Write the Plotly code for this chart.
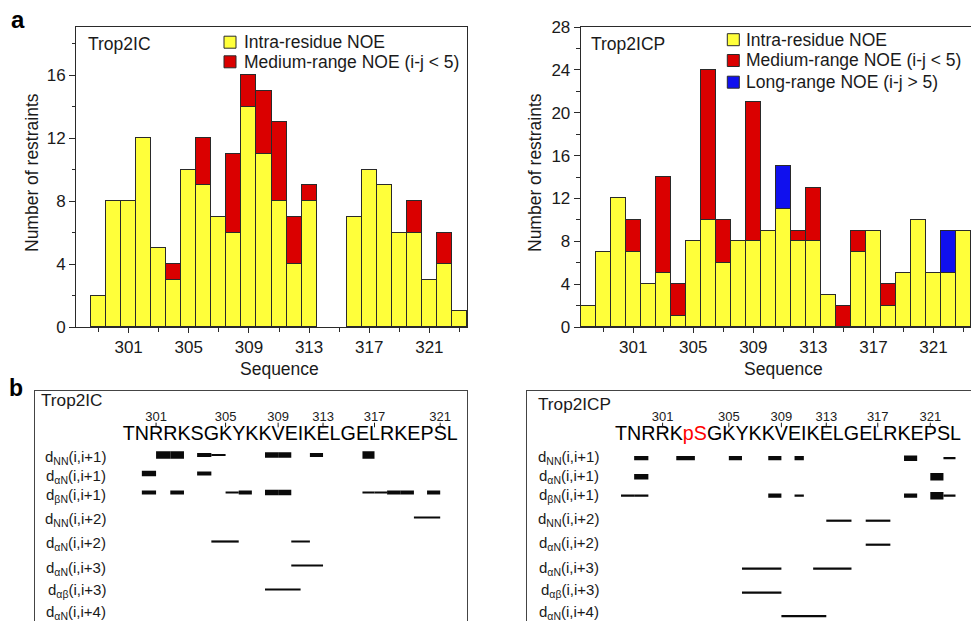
import plotly.graph_objects as go

W, H = 971, 621

# ---------------- data ----------------
residues = list(range(298, 324))

# Panel a, Trop2IC
ic_intra = [0, 2, 8, 8, 12, 5, 3, 10, 9, 7, 6, 14, 11, 8, 4, 8, 0, 0, 7, 10, 9, 6, 6, 3, 4, 1]
ic_medium = [0, 0, 0, 0, 0, 0, 1, 0, 3, 0, 5, 2, 4, 5, 3, 1, 0, 0, 0, 0, 0, 0, 2, 0, 2, 0]

# Panel a, Trop2ICP
icp_intra = [2, 7, 12, 7, 4, 5, 1, 8, 10, 6, 8, 8, 9, 11, 8, 8, 3, 0, 7, 9, 2, 5, 10, 5, 5, 9]
icp_medium = [0, 0, 0, 3, 0, 9, 3, 0, 14, 4, 0, 13, 0, 0, 1, 5, 0, 2, 2, 0, 2, 0, 0, 0, 0, 0]
icp_long = [0, 0, 0, 0, 0, 0, 0, 0, 0, 0, 0, 0, 0, 4, 0, 0, 0, 0, 0, 0, 0, 0, 0, 0, 4, 0]

series_names = ["Intra-residue NOE", "Medium-range NOE (i-j < 5)", "Long-range NOE (i-j > 5)"]
x_ticks = [301, 305, 309, 313, 317, 321]

# Panel b, sequences and NOE connectivities
ic_seq = ["T", "N", "R", "R", "K", "S", "G", "K", "Y", "K", "K", "V", "E", "I", "K",
          "E", "L", "G", "E", "L", "R", "K", "E", "P", "S", "L"]
icp_seq = ["T", "N", "R", "R", "K", "pS", "G", "K", "Y", "K", "K", "V", "E", "I", "K",
           "E", "L", "G", "E", "L", "R", "K", "E", "P", "S", "L"]
icp_seq_colors = ["red" if s == "pS" else "black" for s in icp_seq]

seq_numbers = [301, 305, 309, 313, 317, 321]
ic_number_over = [300, 305, 309, 313, 317, 322]    # residue under each number (as drawn)
icp_number_over = [301, 305, 309, 313, 317, 321]

row_labels = ["d<sub>NN</sub>(i,i+1)", "d<sub>αN</sub>(i,i+1)", "d<sub>βN</sub>(i,i+1)",
              "d<sub>NN</sub>(i,i+2)", "d<sub>αN</sub>(i,i+2)", "d<sub>αN</sub>(i,i+3)",
              "d<sub>αβ</sub>(i,i+3)", "d<sub>αN</sub>(i,i+4)"]

# (row, residue i, residue j, intensity 1=weak .. 4=strong)
ic_noe = [
    (0, 300, 301, 4), (0, 301, 302, 4), (0, 303, 304, 2), (0, 304, 305, 1),
    (0, 308, 309, 3), (0, 309, 310, 3), (0, 312, 313, 2), (0, 316, 317, 4),
    (1, 299, 300, 3), (1, 303, 304, 2),
    (2, 299, 300, 2), (2, 301, 302, 2), (2, 305, 306, 1), (2, 306, 307, 2),
    (2, 308, 309, 3), (2, 309, 310, 3), (2, 316, 317, 1), (2, 317, 318, 1),
    (2, 318, 319, 2), (2, 319, 320, 2), (2, 321, 322, 2),
    (3, 320, 322, 1),
    (4, 304, 306, 1), (4, 310, 312, 1),
    (5, 310, 313, 1),
    (6, 308, 311, 1),
]
icp_noe = [
    (0, 299, 300, 2), (0, 302, 303, 2), (0, 305, 306, 2), (0, 308, 309, 2),
    (0, 310, 311, 2), (0, 319, 320, 3), (0, 322, 323, 1),
    (1, 299, 300, 3), (1, 321, 322, 4),
    (2, 298, 299, 1), (2, 299, 300, 1), (2, 308, 309, 2), (2, 310, 311, 1),
    (2, 319, 320, 2), (2, 321, 322, 4), (2, 322, 323, 1),
    (3, 313, 315, 1), (3, 316, 318, 1),
    (4, 316, 318, 1),
    (5, 306, 309, 1), (5, 312, 315, 1),
    (6, 306, 309, 1),
    (7, 309, 313, 1),
]

# ---------------- style / layout ----------------
YEL, RED, BLUE = "#FFFF3A", "#DA0000", "#1010EE"
EDGE = "#2a2a2a"
FONT = "Arial, Liberation Sans, Helvetica, sans-serif"
TXT = "#1a1a1a"

def px(x):
    return x / W

def py(y):
    return 1 - y / H

A_TOP, A_BOT = 27, 327
A_LEFT = (76, 467)
A_RIGHT = (580.7, 971)
B_TOP = 391
B_LEFT = (35, 467.3)
B_RIGHT = (527.3, 971)
B_H = H - B_TOP

fig = go.Figure()

def nz(v):
    return [x if x else None for x in v]

for vals, col, xa, ya in [
    (ic_intra, YEL, "x", "y"), (ic_medium, RED, "x", "y"),
    (icp_intra, YEL, "x2", "y2"), (icp_medium, RED, "x2", "y2"), (icp_long, BLUE, "x2", "y2"),
]:
    fig.add_trace(go.Bar(x=residues, y=nz(vals), width=1, xaxis=xa, yaxis=ya,
                         marker=dict(color=col, line=dict(color=EDGE, width=1)),
                         showlegend=False, hoverinfo="skip"))

# --- panel b helpers
WID = {"T": 611, "N": 722, "R": 722, "K": 667, "S": 667, "G": 778, "Y": 667, "V": 667,
       "E": 667, "I": 278, "L": 556, "P": 667, "p": 556}
SEQ_FS = 19.7
SEQ_X0 = 87.7
SEQ_Y = 43.7
NUM_Y = 26.5
ROW_Y = [64, 82.5, 101.5, 126.5, 150.5, 174.5, 198.5, 222]
LABEL_Y = [66, 85, 104, 128, 152.5, 177.5, 199, 221]
LEVEL_W = {1: 2.2, 2: 4.2, 3: 5.4, 4: 7.6}

def centers(seq):
    out = []
    cur = SEQ_X0
    for s in seq:
        w = sum(WID[c] for c in s) * SEQ_FS / 1000.0
        out.append(cur + w / 2)
        cur += w
    return out

def draw_b(seq, colors, noe, number_over, xa, ya, yshift, label_shift):
    cx = centers(seq)
    pos = {r: c for r, c in zip(residues, cx)}
    fig.add_trace(go.Scatter(x=cx, y=[SEQ_Y] * len(seq), text=seq, mode="text",
                             textposition="middle center", xaxis=xa, yaxis=ya,
                             textfont=dict(family=FONT, size=SEQ_FS, color=colors),
                             cliponaxis=False, showlegend=False, hoverinfo="skip"))
    nx = [pos[r] for r in number_over]
    fig.add_trace(go.Scatter(x=nx, y=[NUM_Y] * len(nx), text=[str(n) for n in seq_numbers],
                             mode="text", textposition="middle center", xaxis=xa, yaxis=ya,
                             textfont=dict(family=FONT, size=13, color=TXT),
                             cliponaxis=False, showlegend=False, hoverinfo="skip"))
    tx, ty = [], []
    for x in nx:
        tx += [x, x, None]
        ty += [NUM_Y + 5.2, NUM_Y + 9.8, None]
    fig.add_trace(go.Scatter(x=tx, y=ty, mode="lines", line=dict(color=TXT, width=1),
                             xaxis=xa, yaxis=ya, showlegend=False, hoverinfo="skip"))
    for lev in sorted(LEVEL_W):
        lx, ly = [], []
        for row, i, j, s in noe:
            if s != lev:
                continue
            lx += [pos[i], pos[j], None]
            ly += [ROW_Y[row] + yshift, ROW_Y[row] + yshift, None]
        if lx:
            fig.add_trace(go.Scatter(x=lx, y=ly, mode="lines",
                                     line=dict(color="#0a0a0a", width=LEVEL_W[lev]),
                                     xaxis=xa, yaxis=ya, showlegend=False, hoverinfo="skip",
                                     cliponaxis=False))
    for k, lab in enumerate(row_labels):
        fig.add_annotation(x=73.3, y=LABEL_Y[k] + label_shift, xref=xa, yref=ya, text=lab,
                           showarrow=False, xanchor="right", yanchor="middle",
                           font=dict(family=FONT, size=15, color=TXT))

draw_b(ic_seq, ["black"] * len(ic_seq), ic_noe, ic_number_over, "x3", "y3", 0, 0)
draw_b(icp_seq, icp_seq_colors, icp_noe, icp_number_over, "x4", "y4", 3.2, 0)

# ---------------- axes ----------------
tickfont = dict(family=FONT, size=17, color=TXT)
common_x = dict(range=[297.5, 323.5], tickmode="array", tickvals=x_ticks, ticks="outside",
                ticklen=5, tickcolor=EDGE, showline=True, linecolor=EDGE, linewidth=1,
                showgrid=False, zeroline=False, tickfont=tickfont, automargin=False,
                minor=dict(tickvals=[299, 303, 307, 311, 315, 319, 323], ticks="outside",
                           ticklen=4, tickcolor=EDGE))
common_y = dict(ticks="outside", ticklen=6, tickcolor=EDGE, showline=True, linecolor=EDGE,
                linewidth=1, showgrid=False, zeroline=False, tickfont=tickfont, dtick=4, tick0=0,
                automargin=False,
                minor=dict(dtick=2, ticks="outside", ticklen=3.5, tickcolor=EDGE))
blank = dict(showticklabels=False, ticks="", showgrid=False, zeroline=False, automargin=False,
             linecolor="#444", showline=True)

fig.update_layout(
    template="none",
    width=W, height=H, margin=dict(l=0, r=0, t=0, b=0, pad=0, autoexpand=False),
    autosize=False,
    paper_bgcolor="white", plot_bgcolor="white",
    barmode="stack", bargap=0, showlegend=False,
    xaxis=dict(common_x, domain=[px(A_LEFT[0]), px(A_LEFT[1])], anchor="y", mirror=True),
    yaxis=dict(common_y, domain=[py(A_BOT), py(A_TOP)], anchor="x", range=[0, 19.05], mirror=True),
    xaxis2=dict(common_x, domain=[px(A_RIGHT[0]), 1], anchor="y2", mirror=True),
    yaxis2=dict(common_y, domain=[py(A_BOT), py(A_TOP)], anchor="x2", range=[0, 28], mirror=False),
    xaxis3=dict(blank, domain=[px(B_LEFT[0]), px(B_LEFT[1])], anchor="y3", side="top",
                range=[0, B_LEFT[1] - B_LEFT[0]], mirror=False),
    yaxis3=dict(blank, domain=[0, py(B_TOP)], anchor="x3", range=[B_H, 0], mirror=True),
    xaxis4=dict(blank, domain=[px(B_RIGHT[0]), 1], anchor="y4", side="top",
                range=[0, B_RIGHT[1] - B_RIGHT[0]], mirror=False),
    yaxis4=dict(blank, domain=[0, py(B_TOP)], anchor="x4", range=[B_H, 0], mirror=False),
)

def ann(x, y, text, size, xanchor="center", angle=0, bold=False, color=TXT):
    fig.add_annotation(x=px(x), y=py(y), xref="paper", yref="paper", text=text, showarrow=False,
                       xanchor=xanchor, yanchor="middle", textangle=angle,
                       font=dict(family=FONT, size=size, color=color,
                                 weight="bold" if bold else "normal"))

# panel letters
ann(18, 19.5, "a", 24, bold=True, color="black")
ann(16, 388, "b", 23, bold=True, color="black")

# axis titles
ann(32, 173, "Number of restraints", 17.5, angle=-90)
ann(535, 173, "Number of restraints", 17.5, angle=-90)
ann(279, 369, "Sequence", 17.5)
ann(783, 369, "Sequence", 17.5)

# in-plot labels
ann(86, 43.7, "Trop2IC", 17.5, xanchor="left")
ann(589, 43.7, "Trop2ICP", 17.5, xanchor="left")
ann(38.5, 400, "Trop2IC", 17.2, xanchor="left")
ann(535.5, 404, "Trop2ICP", 17.2, xanchor="left")

# manual legends
def legend(x_sw, text_x, ys, names, colors):
    for y, name, col in zip(ys, names, colors):
        fig.add_shape(type="rect", xref="paper", yref="paper",
                      x0=px(x_sw), x1=px(x_sw + 12), y0=py(y - 6), y1=py(y + 6),
                      fillcolor=col, line=dict(color=EDGE, width=1))
        ann(text_x, y, name, 17.5, xanchor="left")

legend(224, 241.5, [42.2, 61.8], series_names[:2], [YEL, RED])
legend(727.3, 744, [39.7, 60.5, 82.2], series_names, [YEL, RED, BLUE])

fig.write_html("out.html")
